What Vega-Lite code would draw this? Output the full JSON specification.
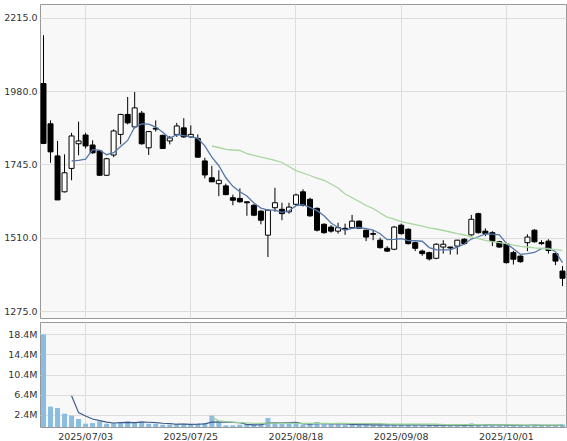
{
"$schema": "https://vega.github.io/schema/vega-lite/v6.json",
"padding": {"left": 3, "top": 3, "right": 0, "bottom": 0},
"background": "white",
"spacing": 4,
"bounds": "flush",
"config": {
  "view": {"fill": "#f8f8f8", "stroke": "#999999", "strokeWidth": 1},
  "axis": {"labelFont": "DejaVu Sans", "labelFontSize": 9.5, "labelColor": "#333333", "gridColor": "#dddddd", "gridWidth": 1, "ticks": false, "domain": false, "title": null, "labelOverlap": false}
},
"data": {"values": [
{"d":"2025/06/25","o":2004,"h":2159,"l":1810,"c":1812,"v":18.35,"m5":null,"m25":null,"vm5":null,"vm25":null},
{"d":"2025/06/26","o":1875,"h":1886,"l":1750,"c":1785,"v":4.03,"m5":null,"m25":null,"vm5":null,"vm25":null},
{"d":"2025/06/27","o":1772,"h":1820,"l":1631,"c":1631,"v":3.76,"m5":null,"m25":null,"vm5":null,"vm25":null},
{"d":"2025/06/30","o":1657,"h":1777,"l":1655,"c":1718,"v":2.64,"m5":null,"m25":null,"vm5":null,"vm25":null},
{"d":"2025/07/01","o":1732,"h":1846,"l":1694,"c":1836,"v":2.25,"m5":1756.4,"m25":null,"vm5":6.21,"vm25":null},
{"d":"2025/07/02","o":1811,"h":1882,"l":1774,"c":1820,"v":1.58,"m5":1758,"m25":null,"vm5":2.85,"vm25":null},
{"d":"2025/07/03","o":1839,"h":1846,"l":1796,"c":1804,"v":0.65,"m5":1761.8,"m25":null,"vm5":2.18,"vm25":null},
{"d":"2025/07/04","o":1807,"h":1822,"l":1779,"c":1782,"v":0.78,"m5":1792,"m25":null,"vm5":1.58,"vm25":null},
{"d":"2025/07/07","o":1788,"h":1791,"l":1708,"c":1710,"v":1.11,"m5":1790.4,"m25":null,"vm5":1.27,"vm25":null},
{"d":"2025/07/08","o":1710,"h":1766,"l":1708,"c":1763,"v":0.65,"m5":1775.8,"m25":null,"vm5":0.95,"vm25":null},
{"d":"2025/07/09","o":1775,"h":1857,"l":1768,"c":1852,"v":0.78,"m5":1782.2,"m25":null,"vm5":0.79,"vm25":null},
{"d":"2025/07/10","o":1841,"h":1907,"l":1809,"c":1905,"v":0.91,"m5":1802.4,"m25":null,"vm5":0.85,"vm25":null},
{"d":"2025/07/11","o":1905,"h":1961,"l":1873,"c":1878,"v":1.11,"m5":1821.6,"m25":null,"vm5":0.91,"vm25":null},
{"d":"2025/07/14","o":1865,"h":1977,"l":1860,"c":1926,"v":0.91,"m5":1864.8,"m25":null,"vm5":0.87,"vm25":null},
{"d":"2025/07/15","o":1909,"h":1916,"l":1808,"c":1811,"v":1.11,"m5":1874.4,"m25":null,"vm5":0.96,"vm25":null},
{"d":"2025/07/16","o":1798,"h":1852,"l":1775,"c":1850,"v":0.65,"m5":1874,"m25":null,"vm5":0.94,"vm25":null},
{"d":"2025/07/17","o":1861,"h":1886,"l":1850,"c":1858,"v":0.6,"m5":1864.6,"m25":null,"vm5":0.88,"vm25":null},
{"d":"2025/07/18","o":1838,"h":1840,"l":1794,"c":1796,"v":0.45,"m5":1848.2,"m25":null,"vm5":0.74,"vm25":null},
{"d":"2025/07/22","o":1820,"h":1836,"l":1809,"c":1830,"v":0.45,"m5":1829,"m25":null,"vm5":0.65,"vm25":null},
{"d":"2025/07/23","o":1841,"h":1878,"l":1833,"c":1868,"v":0.6,"m5":1840.4,"m25":null,"vm5":0.55,"vm25":null},
{"d":"2025/07/24","o":1862,"h":1893,"l":1830,"c":1833,"v":0.65,"m5":1837,"m25":null,"vm5":0.55,"vm25":null},
{"d":"2025/07/25","o":1833,"h":1870,"l":1830,"c":1841,"v":0.45,"m5":1833.6,"m25":null,"vm5":0.52,"vm25":null},
{"d":"2025/07/28","o":1828,"h":1841,"l":1766,"c":1768,"v":0.6,"m5":1828,"m25":null,"vm5":0.55,"vm25":null},
{"d":"2025/07/29","o":1756,"h":1766,"l":1700,"c":1711,"v":0.78,"m5":1804.2,"m25":null,"vm5":0.62,"vm25":null},
{"d":"2025/07/30","o":1702,"h":1740,"l":1688,"c":1689,"v":2.25,"m5":1768.4,"m25":1803.8,"vm5":0.95,"vm25":1.92},
{"d":"2025/07/31","o":1683,"h":1726,"l":1643,"c":1694,"v":0.91,"m5":1740.6,"m25":1799,"vm5":1.0,"vm25":1.23},
{"d":"2025/08/01","o":1676,"h":1683,"l":1646,"c":1648,"v":0.32,"m5":1702,"m25":1793.2,"vm5":0.97,"vm25":1.08},
{"d":"2025/08/04","o":1638,"h":1648,"l":1614,"c":1630,"v":0.32,"m5":1674.4,"m25":1791,"vm5":0.92,"vm25":0.94},
{"d":"2025/08/05","o":1636,"h":1668,"l":1622,"c":1625,"v":0.45,"m5":1657.2,"m25":1789.4,"vm5":0.85,"vm25":0.85},
{"d":"2025/08/06","o":1625,"h":1626,"l":1580,"c":1622,"v":0.6,"m5":1643.8,"m25":1779,"vm5":0.52,"vm25":0.79},
{"d":"2025/08/07","o":1614,"h":1617,"l":1579,"c":1582,"v":0.45,"m5":1621.4,"m25":1774,"vm5":0.43,"vm25":0.74},
{"d":"2025/08/08","o":1595,"h":1598,"l":1553,"c":1566,"v":0.45,"m5":1605,"m25":1768.5,"vm5":0.45,"vm25":0.73},
{"d":"2025/08/12","o":1518,"h":1601,"l":1448,"c":1598,"v":1.78,"m5":1598.6,"m25":1763,"vm5":0.75,"vm25":0.77},
{"d":"2025/08/13","o":1606,"h":1670,"l":1593,"c":1622,"v":0.91,"m5":1598,"m25":1758,"vm5":0.84,"vm25":0.77},
{"d":"2025/08/14","o":1601,"h":1622,"l":1566,"c":1587,"v":0.6,"m5":1591,"m25":1751,"vm5":0.84,"vm25":0.76},
{"d":"2025/08/15","o":1593,"h":1622,"l":1587,"c":1608,"v":0.6,"m5":1596.2,"m25":1738,"vm5":0.87,"vm25":0.76},
{"d":"2025/08/18","o":1617,"h":1651,"l":1612,"c":1647,"v":0.6,"m5":1612.4,"m25":1725,"vm5":0.9,"vm25":0.74},
{"d":"2025/08/19","o":1657,"h":1665,"l":1610,"c":1614,"v":0.5,"m5":1615.6,"m25":1717.3,"vm5":0.64,"vm25":0.72},
{"d":"2025/08/20","o":1633,"h":1638,"l":1577,"c":1580,"v":0.6,"m5":1607.2,"m25":1709.3,"vm5":0.58,"vm25":0.71},
{"d":"2025/08/21","o":1604,"h":1607,"l":1530,"c":1534,"v":1.0,"m5":1596.6,"m25":1701.2,"vm5":0.66,"vm25":0.7},
{"d":"2025/08/22","o":1553,"h":1556,"l":1523,"c":1526,"v":0.55,"m5":1580.2,"m25":1693.9,"vm5":0.65,"vm25":0.7},
{"d":"2025/08/25","o":1544,"h":1550,"l":1526,"c":1531,"v":0.5,"m5":1557,"m25":1682,"vm5":0.63,"vm25":0.69},
{"d":"2025/08/26","o":1531,"h":1558,"l":1523,"c":1542,"v":0.5,"m5":1542.6,"m25":1669.2,"vm5":0.63,"vm25":0.7},
{"d":"2025/08/27","o":1540,"h":1555,"l":1519,"c":1537,"v":0.45,"m5":1534,"m25":1650,"vm5":0.6,"vm25":0.7},
{"d":"2025/08/28","o":1542,"h":1583,"l":1540,"c":1563,"v":0.5,"m5":1539.8,"m25":1638.1,"vm5":0.5,"vm25":0.69},
{"d":"2025/08/29","o":1563,"h":1565,"l":1538,"c":1540,"v":0.45,"m5":1542.6,"m25":1626,"vm5":0.48,"vm25":0.68},
{"d":"2025/09/01","o":1534,"h":1536,"l":1499,"c":1512,"v":0.4,"m5":1538.8,"m25":1613.1,"vm5":0.46,"vm25":0.68},
{"d":"2025/09/02","o":1523,"h":1534,"l":1502,"c":1521,"v":0.4,"m5":1534.6,"m25":1603.5,"vm5":0.44,"vm25":0.67},
{"d":"2025/09/03","o":1502,"h":1510,"l":1475,"c":1478,"v":0.45,"m5":1522.8,"m25":1589,"vm5":0.44,"vm25":0.66},
{"d":"2025/09/04","o":1476,"h":1483,"l":1464,"c":1467,"v":0.4,"m5":1503.6,"m25":1576.2,"vm5":0.42,"vm25":0.59},
{"d":"2025/09/05","o":1473,"h":1547,"l":1470,"c":1544,"v":0.5,"m5":1504.4,"m25":1569.8,"vm5":0.43,"vm25":0.57},
{"d":"2025/09/08","o":1550,"h":1555,"l":1520,"c":1523,"v":0.45,"m5":1506.6,"m25":1561.8,"vm5":0.44,"vm25":0.58},
{"d":"2025/09/09","o":1537,"h":1540,"l":1488,"c":1491,"v":0.4,"m5":1500.6,"m25":1557,"vm5":0.44,"vm25":0.58},
{"d":"2025/09/10","o":1494,"h":1497,"l":1467,"c":1476,"v":0.35,"m5":1500.2,"m25":1552.2,"vm5":0.42,"vm25":0.58},
{"d":"2025/09/11","o":1467,"h":1472,"l":1452,"c":1459,"v":0.35,"m5":1498.6,"m25":1547.4,"vm5":0.41,"vm25":0.57},
{"d":"2025/09/12","o":1462,"h":1465,"l":1437,"c":1442,"v":0.4,"m5":1478.2,"m25":1541.6,"vm5":0.39,"vm25":0.56},
{"d":"2025/09/16","o":1444,"h":1492,"l":1441,"c":1489,"v":0.4,"m5":1471.4,"m25":1537.8,"vm5":0.38,"vm25":0.56},
{"d":"2025/09/17","o":1480,"h":1502,"l":1459,"c":1489,"v":0.3,"m5":1471,"m25":1533,"vm5":0.36,"vm25":0.5},
{"d":"2025/09/18","o":1480,"h":1481,"l":1456,"c":1477,"v":0.3,"m5":1471.2,"m25":1528.2,"vm5":0.35,"vm25":0.48},
{"d":"2025/09/19","o":1483,"h":1503,"l":1456,"c":1502,"v":0.35,"m5":1479.8,"m25":1522.7,"vm5":0.35,"vm25":0.47},
{"d":"2025/09/22","o":1505,"h":1508,"l":1488,"c":1491,"v":0.3,"m5":1489.6,"m25":1518.6,"vm5":0.33,"vm25":0.46},
{"d":"2025/09/24","o":1519,"h":1583,"l":1516,"c":1569,"v":0.7,"m5":1505.6,"m25":1512.2,"vm5":0.39,"vm25":0.46},
{"d":"2025/09/25","o":1587,"h":1590,"l":1523,"c":1526,"v":0.5,"m5":1513,"m25":1507.3,"vm5":0.43,"vm25":0.46},
{"d":"2025/09/26","o":1531,"h":1540,"l":1515,"c":1523,"v":0.35,"m5":1522.2,"m25":1501.6,"vm5":0.44,"vm25":0.45},
{"d":"2025/09/29","o":1526,"h":1531,"l":1483,"c":1499,"v":0.35,"m5":1521.6,"m25":1497.7,"vm5":0.44,"vm25":0.42},
{"d":"2025/09/30","o":1497,"h":1500,"l":1478,"c":1480,"v":0.3,"m5":1519.4,"m25":1494.5,"vm5":0.44,"vm25":0.41},
{"d":"2025/10/01","o":1491,"h":1494,"l":1427,"c":1430,"v":0.45,"m5":1491.6,"m25":1491.3,"vm5":0.39,"vm25":0.41},
{"d":"2025/10/02","o":1462,"h":1468,"l":1424,"c":1441,"v":0.35,"m5":1474.6,"m25":1486.5,"vm5":0.36,"vm25":0.41},
{"d":"2025/10/03","o":1451,"h":1453,"l":1430,"c":1433,"v":0.3,"m5":1456.6,"m25":1482.3,"vm5":0.35,"vm25":0.4},
{"d":"2025/10/06","o":1494,"h":1521,"l":1467,"c":1512,"v":0.35,"m5":1459.2,"m25":1480.1,"vm5":0.35,"vm25":0.39},
{"d":"2025/10/07","o":1534,"h":1537,"l":1494,"c":1497,"v":0.35,"m5":1462.6,"m25":1477.5,"vm5":0.36,"vm25":0.39},
{"d":"2025/10/08","o":1494,"h":1502,"l":1487,"c":1491,"v":0.25,"m5":1474.8,"m25":1475.9,"vm5":0.32,"vm25":0.38},
{"d":"2025/10/09","o":1499,"h":1505,"l":1459,"c":1469,"v":0.3,"m5":1476.8,"m25":1473.7,"vm5":0.31,"vm25":0.38},
{"d":"2025/10/10","o":1459,"h":1461,"l":1422,"c":1435,"v":0.3,"m5":1465,"m25":1471.4,"vm5":0.31,"vm25":0.37},
{"d":"2025/10/14","o":1403,"h":1419,"l":1355,"c":1380,"v":0.5,"m5":1430,"m25":1469.5,"vm5":0.34,"vm25":0.38}
]},
"vconcat": [
  {
    "width": 526, "height": 314,
    "encoding": {"x": {"field": "d", "type": "ordinal", "scale": {"paddingInner": 0, "paddingOuter": 0},
      "axis": {"values": ["2025/07/03","2025/07/25","2025/08/18","2025/09/08","2025/10/01"], "labels": false, "grid": true, "bandPosition": 0.5}}},
    "layer": [
      {"mark": {"type": "rule", "color": "#000000", "strokeWidth": 1},
       "encoding": {"y": {"field": "l", "type": "quantitative", "scale": {"domain": [1252.6, 2258.9], "nice": false, "zero": false},
          "axis": {"values": [1275, 1510, 1745, 1980, 2215], "tickCount": 10, "format": ".1f", "grid": true, "labelPadding": 3, "labelOverlap": false, "minExtent": 36, "maxExtent": 36}},
         "y2": {"field": "h"}}},
      {"mark": {"type": "bar", "size": 5, "stroke": "#000000", "strokeWidth": 1},
       "encoding": {"y": {"field": "o", "type": "quantitative"}, "y2": {"field": "c"},
         "fill": {"condition": {"test": "datum.c >= datum.o", "value": "#ffffff"}, "value": "#000000"}}},
      {"transform": [{"filter": "datum.m5 != null"}],
       "mark": {"type": "line", "color": "#5577aa", "strokeWidth": 1.3},
       "encoding": {"y": {"field": "m5", "type": "quantitative"}}},
      {"transform": [{"filter": "datum.m25 != null"}],
       "mark": {"type": "line", "color": "#a8d5a0", "strokeWidth": 1.3},
       "encoding": {"y": {"field": "m25", "type": "quantitative"}}}
    ]
  },
  {
    "width": 526, "height": 105,
    "encoding": {"x": {"field": "d", "type": "ordinal", "scale": {"paddingInner": 0, "paddingOuter": 0},
      "axis": {"values": ["2025/07/03","2025/07/25","2025/08/18","2025/09/08","2025/10/01"], "labels": true, "labelAngle": 0, "labelPadding": 4, "labelOverlap": false, "grid": true, "bandPosition": 0.5}}},
    "layer": [
      {"mark": {"type": "bar", "size": 5, "color": "#8bbde0"},
       "encoding": {"y": {"field": "v", "type": "quantitative", "scale": {"domain": [0, 20.8], "nice": false},
          "axis": {"values": [2.4, 6.4, 10.4, 14.4, 18.4], "tickCount": 10, "format": ".1f", "labelExpr": "datum.label + 'M'", "labelOverlap": false, "grid": true, "labelPadding": 3, "minExtent": 36, "maxExtent": 36}}}},
      {"transform": [{"filter": "datum.vm5 != null"}],
       "mark": {"type": "line", "color": "#3d5a8a", "strokeWidth": 1.2},
       "encoding": {"y": {"field": "vm5", "type": "quantitative"}}},
      {"transform": [{"filter": "datum.vm25 != null"}],
       "mark": {"type": "line", "color": "#9ccf94", "strokeWidth": 1.2},
       "encoding": {"y": {"field": "vm25", "type": "quantitative"}}}
    ]
  }
]
}
